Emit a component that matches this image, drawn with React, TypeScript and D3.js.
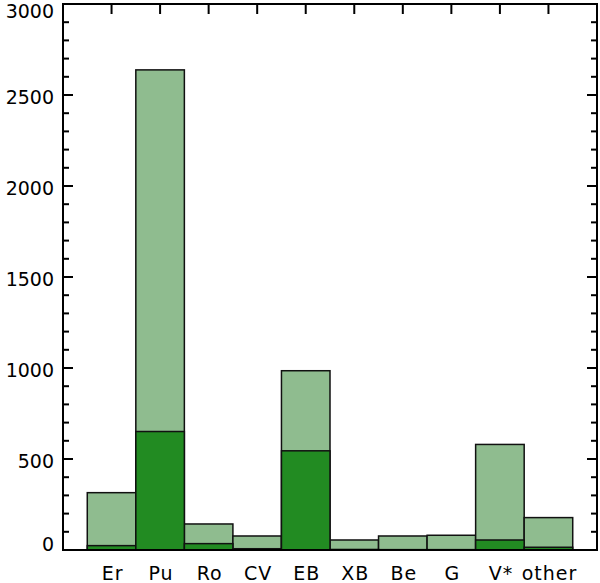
import React from "react";
import * as d3 from "d3";

const categories = ["Er", "Pu", "Ro", "CV", "EB", "XB", "Be", "G", "V*", "other"];
const totalCounts = [315, 2638, 143, 77, 985, 55, 77, 81, 580, 178];
const subsetCounts = [24, 651, 35, 7, 545, 3, 2, 2, 55, 15];
const yMajorTicks = [0, 500, 1000, 1500, 2000, 2500, 3000];

const W = 600;
const H = 583;
const left = 63;
const right = 597;
const top = 4;
const bottom = 550;
const FONT = "DejaVu Sans";

export default function App() {
  const x = d3.scaleLinear().domain([0, categories.length + 1]).range([left, right]);
  const y = d3.scaleLinear().domain([0, 3000]).range([bottom, top]);
  const half = (x(1) - x(0)) / 2;
  const minor = d3.range(0, 3001, 100);

  return (
    <svg width={W} height={H} style={{ position: "absolute", left: 0, top: 0, background: "#fff" }}>
      {/* bottom ticks (under bars) */}
      {categories.map((c, i) => (
        <line key={"bt" + c} x1={x(i + 1)} x2={x(i + 1)} y1={bottom} y2={bottom - 10} stroke="#000" strokeWidth={2} />
      ))}
      {/* total bars */}
      {categories.map((c, i) => (
        <rect
          key={"tot" + c}
          x={x(i + 1) - half}
          y={y(totalCounts[i])}
          width={half * 2}
          height={y(0) - y(totalCounts[i])}
          fill="#8fbc8f"
          stroke="#111"
          strokeWidth={1.5}
        />
      ))}
      {/* subset bars */}
      {categories.map((c, i) => (
        <rect
          key={"sub" + c}
          x={x(i + 1) - half}
          y={y(subsetCounts[i])}
          width={half * 2}
          height={y(0) - y(subsetCounts[i])}
          fill="#228b22"
          stroke="#111"
          strokeWidth={1.5}
        />
      ))}
      {/* frame */}
      <rect x={left} y={top} width={right - left} height={bottom - top} fill="none" stroke="#000" strokeWidth={2} />
      {/* left & right ticks */}
      {minor.map((v) => {
        const len = v % 500 === 0 ? 10 : 6;
        return (
          <g key={"yt" + v}>
            <line x1={left} x2={left + len} y1={y(v)} y2={y(v)} stroke="#000" strokeWidth={2} />
            <line x1={right} x2={right - len} y1={y(v)} y2={y(v)} stroke="#000" strokeWidth={2} />
          </g>
        );
      })}
      {/* top ticks */}
      {categories.map((c, i) => (
        <line key={"tt" + c} x1={x(i + 1)} x2={x(i + 1)} y1={top} y2={top + 10} stroke="#000" strokeWidth={2} />
      ))}
      {/* y labels */}
      {yMajorTicks.map((v) => {
        const cy = Math.max(11, Math.min(544, y(v) + 2));
        return (
          <text
            key={"yl" + v}
            x={54}
            y={cy}
            textAnchor="end"
            dominantBaseline="central"
            fontFamily={FONT}
            fontSize={19}
            fill="#000"
          >
            {v}
          </text>
        );
      })}
      {/* x labels */}
      {categories.map((c, i) => (
        <text
          key={"xl" + c}
          x={x(i + 1) + 1}
          y={580}
          textAnchor="middle"
          fontFamily={FONT}
          fontSize={19}
          letterSpacing={1}
          fill="#000"
        >
          {c}
        </text>
      ))}
    </svg>
  );
}
